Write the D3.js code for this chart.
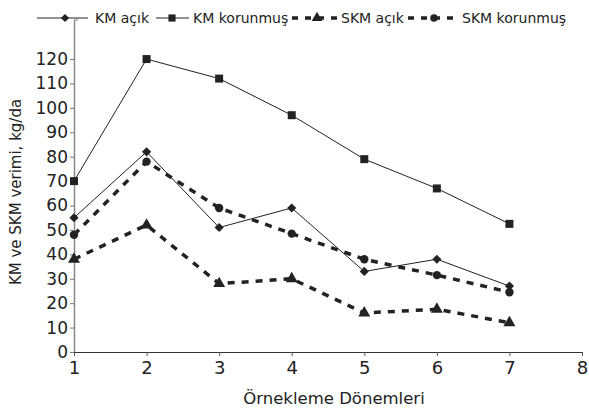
<!DOCTYPE html>
<html>
<head>
<meta charset="utf-8">
<script src="https://cdn.jsdelivr.net/npm/d3@7"></script>
<style>
  body { margin: 0; background: #fff; }
  svg { display: block; font-family: "DejaVu Sans", sans-serif; }
</style>
</head>
<body>
<div id="vis"></div>
<script>
// sampling periods and yields (kg/da)
var periods = [1, 2, 3, 4, 5, 6, 7];
var kmAcik = [55, 82, 51, 59, 33, 38, 27];
var kmKorunmus = [70, 120, 112, 97, 79, 67, 52.5];
var skmAcik = [38, 52, 28, 30, 16, 17.5, 12];
var skmKorunmus = [48, 78, 59, 48.5, 38, 31.5, 24.5];
var xTicks = [1, 2, 3, 4, 5, 6, 7, 8];
var yTicks = [0, 10, 20, 30, 40, 50, 60, 70, 80, 90, 100, 110, 120];

// diamond = square turned 45 degrees
var series = [
  { name: "KM açık", values: kmAcik, symbol: d3.symbolSquare, rot: 45, size: 42, dashed: false },
  { name: "KM korunmuş", values: kmKorunmus, symbol: d3.symbolSquare, rot: 0, size: 64, dashed: false },
  { name: "SKM açık", values: skmAcik, symbol: d3.symbolTriangle, rot: 0, size: 62, dashed: true },
  { name: "SKM korunmuş", values: skmKorunmus, symbol: d3.symbolCircle, rot: 0, size: 55, dashed: true }
];

var width = 589, height = 412;
var ink = "#222";

var svg = d3.select("#vis").append("svg")
    .attr("width", width)
    .attr("height", height);

var x = d3.scaleLinear().domain([1, 8]).range([74, 582]);
var y = d3.scaleLinear().domain([0, 136]).range([352, 20]);

// y axis
var yAxis = svg.append("g")
    .attr("transform", "translate(74,0)")
    .call(d3.axisLeft(y).tickValues(yTicks).tickSize(4).tickSizeOuter(0).tickFormat(d3.format("d")));
yAxis.select(".domain").attr("stroke", "#888").attr("stroke-width", 1.5);
yAxis.selectAll(".tick line").attr("stroke", "#777");
yAxis.selectAll(".tick text")
    .attr("x", -6)
    .attr("font-size", 17)
    .attr("font-family", "DejaVu Sans")
    .attr("fill", ink);

// small cap tick at the top of the y axis
svg.append("line")
    .attr("x1", 74).attr("x2", 78)
    .attr("y1", y(136)).attr("y2", y(136))
    .attr("stroke", "#777");

// x axis
var xAxis = svg.append("g")
    .attr("transform", "translate(0,352)")
    .call(d3.axisBottom(x).tickValues(xTicks).tickSize(4).tickSizeOuter(0).tickFormat(d3.format("d")));
xAxis.select(".domain").attr("stroke", "#333").attr("stroke-width", 1.2);
xAxis.selectAll(".tick line").attr("stroke", "#555");
xAxis.selectAll(".tick text")
    .attr("y", 9)
    .attr("font-size", 18)
    .attr("font-family", "DejaVu Sans")
    .attr("fill", ink);

// axis titles
svg.append("text")
    .attr("x", 334)
    .attr("y", 404)
    .attr("text-anchor", "middle")
    .attr("font-size", 16.5)
    .attr("fill", ink)
    .text("Örnekleme Dönemleri");

svg.append("text")
    .attr("transform", "translate(21,192) rotate(-90)")
    .attr("text-anchor", "middle")
    .attr("font-size", 15)
    .attr("fill", ink)
    .text("KM ve SKM verimi, kg/da");

var line = d3.line()
    .x(function(d, i) { return x(periods[i]); })
    .y(function(d) { return y(d); });

// dashed series underneath, solid ones on top
var order = [2, 3, 0, 1];
order.forEach(function(k) {
  var s = series[k];
  svg.append("path")
      .datum(s.values)
      .attr("fill", "none")
      .attr("stroke", ink)
      .attr("stroke-width", s.dashed ? 3.5 : 1)
      .attr("stroke-dasharray", s.dashed ? "7,7" : null)
      .attr("d", line);

  svg.append("g").selectAll("path")
    .data(s.values)
    .enter().append("path")
      .attr("transform", function(d, i) {
        return "translate(" + x(periods[i]) + "," + y(d) + ") rotate(" + s.rot + ")";
      })
      .attr("d", d3.symbol().type(s.symbol).size(s.size))
      .attr("fill", ink);
});

// legend
var legend = [
  { x1: 37, x2: 88, m: 65, tx: 95 },
  { x1: 156, x2: 189, m: 172, tx: 193 },
  { x1: 292, x2: 338, m: 317, tx: 341 },
  { x1: 408, x2: 459, m: 434, tx: 462 }
];
var ly = 18;
series.forEach(function(s, k) {
  var l = legend[k];
  svg.append("line")
      .attr("x1", l.x1).attr("x2", l.x2)
      .attr("y1", ly).attr("y2", ly)
      .attr("stroke", ink)
      .attr("stroke-width", s.dashed ? 3.5 : 1)
      .attr("stroke-dasharray", s.dashed ? "6,7" : null);
  svg.append("path")
      .attr("transform", "translate(" + l.m + "," + ly + ") rotate(" + s.rot + ")")
      .attr("d", d3.symbol().type(s.symbol).size(s.size * 0.8))
      .attr("fill", ink);
  svg.append("text")
      .attr("x", l.tx)
      .attr("y", ly + 5)
      .attr("font-size", 14)
      .attr("fill", ink)
      .text(s.name);
});
</script>
</body>
</html>
